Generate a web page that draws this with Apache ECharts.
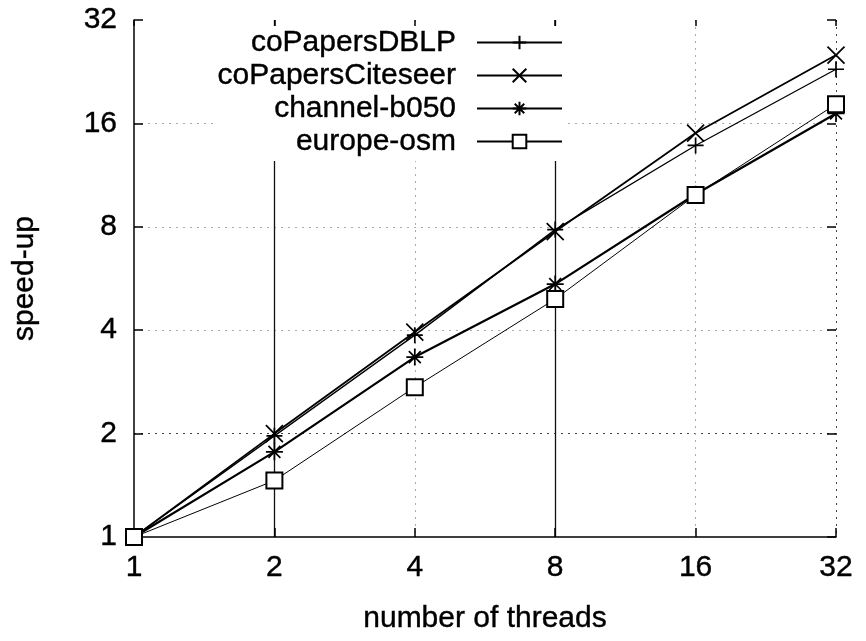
<!DOCTYPE html>
<html>
<head>
<meta charset="utf-8">
<script src="https://cdn.jsdelivr.net/npm/echarts@6/dist/echarts.min.js"></script>
<style>
html,body{margin:0;padding:0;background:#fff;}
#chart{width:866px;height:641px;}
</style>
</head>
<body>
<div id="chart"></div>
<script>
const threads = [1, 2, 4, 8, 16, 32];
const tickLabels = ['1', '2', '4', '8', '16', '32'];
const coPapersDBLP = [1, 1.97, 3.87, 7.85, 13.8, 23.0];
const coPapersCiteseer = [1, 2.0, 3.95, 7.75, 15.0, 25.3];
const channelB050 = [1, 1.77, 3.34, 5.45, 9.95, 17.1];
const europeOsm = [1, 1.46, 2.73, 4.93, 9.9, 18.2];
const seriesNames = ['coPapersDBLP', 'coPapersCiteseer', 'channel-b050', 'europe-osm'];

const FONT = 'Liberation Sans, Arial, sans-serif';
const TXT = { fontFamily: FONT, fontSize: 30, color: '#000', textBorderColor: '#000', textBorderWidth: 0.4 };
const PLUS = 'path://M0,5L10,5M5,0L5,10';
const CROSS = 'path://M0,0L10,10M0,10L10,0';
const STAR = 'path://M0,5L10,5M5,0L5,10M1.5,1.5L8.5,8.5M1.5,8.5L8.5,1.5';

function pairs(vals) { return threads.map((t, i) => [t, vals[i]]); }

function mk(name, vals, symbol, size, width) {
  return {
    name: name, type: 'line', data: pairs(vals),
    xAxisIndex: 0, yAxisIndex: 0,
    symbol: symbol, symbolSize: size, showSymbol: true,
    lineStyle: { color: '#000', width: width },
    itemStyle: { color: '#000', borderColor: '#000', borderWidth: symbol === 'emptyRect' ? 1 : 1.7 },
    emphasis: { disabled: true },
    animation: false, z: 5
  };
}

const chart = echarts.init(document.getElementById('chart'), null, { renderer: 'canvas' });
const logAxisBase = { type: 'log', logBase: 2, min: 1, max: 32, interval: 1 };
const lbl = v => tickLabels[threads.indexOf(Math.round(v))] || '';
chart.setOption({
  backgroundColor: '#fff',
  animation: false,
  grid: { left: 134, right: 30, top: 20, bottom: 104 },
  legend: {
    orient: 'vertical', align: 'right',
    right: 303, top: 26,
    itemWidth: 85, itemHeight: 17, itemGap: 0,
    padding: [0, 0, 3, 0],
    backgroundColor: '#fff',
    z: 10,
    data: seriesNames,
    textStyle: Object.assign({}, TXT, { lineHeight: 33, padding: [0, 16, 0, 0] }),
    inactiveColor: '#000',
    selectedMode: false
  },
  xAxis: [
    Object.assign({}, logAxisBase, {
      position: 'bottom',
      name: 'number of threads', nameLocation: 'middle', nameGap: 67,
      nameTextStyle: TXT,
      axisLine: { show: true, lineStyle: { color: '#000', width: 1.5 } },
      axisTick: { show: true, inside: true, length: 9, lineStyle: { color: '#000', width: 1.5 } },
      axisLabel: Object.assign({}, TXT, { margin: 16, formatter: lbl }),
      splitLine: { show: true, lineStyle: { type: [2, 5], width: 1, color: ['transparent', '#777', '#aaa', '#777', '#aaa', '#444'] } }
    }),
    Object.assign({}, logAxisBase, {
      position: 'bottom',
      axisLine: { show: false }, axisTick: { show: false }, axisLabel: { show: false },
      splitLine: { show: true, lineStyle: { type: 'solid', width: 1.3, color: ['transparent', '#111', 'transparent', '#111', 'transparent', 'transparent'] } }
    }),
    Object.assign({}, logAxisBase, {
      position: 'top',
      axisLine: { show: false },
      axisTick: { show: true, inside: true, length: 6, lineStyle: { color: '#000', width: 1.5 } },
      axisLabel: { show: false }, splitLine: { show: false }
    })
  ],
  yAxis: [
    Object.assign({}, logAxisBase, {
      position: 'left',
      name: 'speed-up', nameLocation: 'middle', nameGap: 94,
      nameTextStyle: TXT,
      axisLine: { show: true, lineStyle: { color: '#000', width: 1.5 } },
      axisTick: { show: true, inside: true, length: 9, lineStyle: { color: '#000', width: 1.5 } },
      axisLabel: Object.assign({}, TXT, { margin: 17, formatter: lbl }),
      splitLine: { show: true, lineStyle: { type: [2, 5], width: 1, color: ['transparent', '#444', '#aaa', '#aaa', '#aaa', 'transparent'] } }
    }),
    Object.assign({}, logAxisBase, {
      position: 'right',
      axisLine: { show: false },
      axisTick: { show: true, inside: true, length: 9, lineStyle: { color: '#000', width: 1.5 } },
      axisLabel: { show: false }, splitLine: { show: false }
    })
  ],
  series: [
    mk(seriesNames[0], coPapersDBLP, PLUS, 16, 1.3),
    mk(seriesNames[1], coPapersCiteseer, CROSS, 17, 1.8),
    mk(seriesNames[2], channelB050, STAR, 17, 2.2),
    mk(seriesNames[3], europeOsm, 'emptyRect', 16, 1)
  ]
});
</script>
</body>
</html>
